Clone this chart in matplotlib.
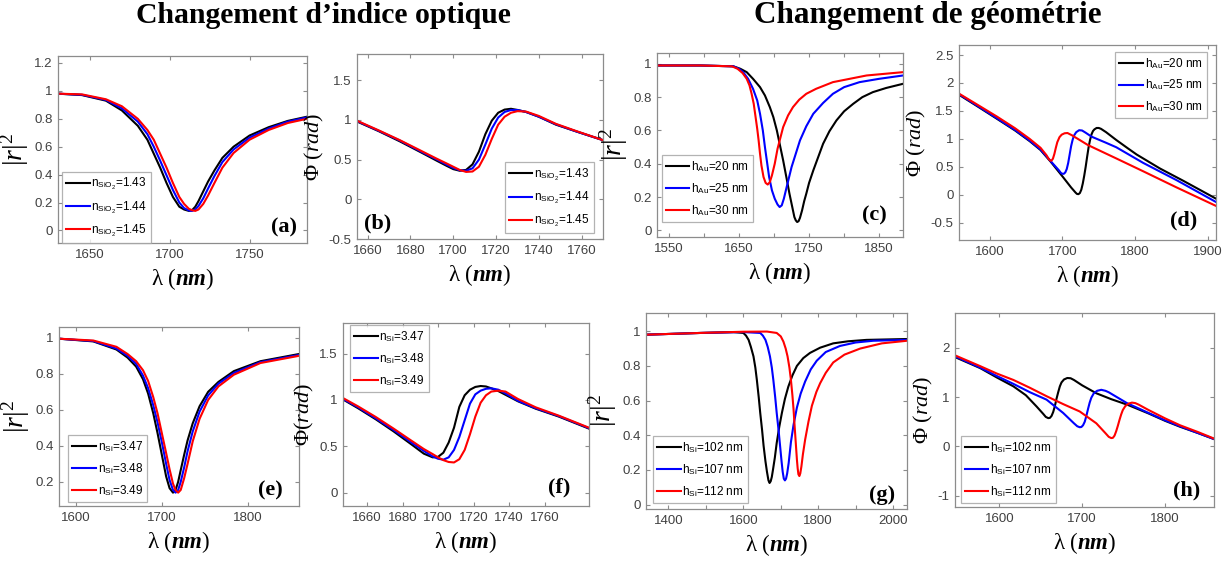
import matplotlib
matplotlib.use('Agg')
import matplotlib.pyplot as plt
from matplotlib.ticker import FormatStrFormatter

plt.rcParams['font.family'] = ['Liberation Sans', 'DejaVu Sans']
plt.rcParams['mathtext.fontset'] = 'custom'
plt.rcParams['mathtext.rm'] = 'Liberation Serif'
plt.rcParams['mathtext.it'] = 'Liberation Serif:italic'
plt.rcParams['mathtext.bf'] = 'Liberation Serif:italic:bold'

# ---- (a) |r|^2 vs n_SiO2
wl_a = [1630, 1645, 1660, 1670, 1680, 1686, 1690, 1694, 1698, 1702, 1706, 1709, 1712,
        1714, 1716, 1718, 1721, 1724, 1728, 1733, 1740, 1750, 1762, 1774, 1786]
a_143 = [0.98, 0.97, 0.93, 0.86, 0.75, 0.65, 0.55, 0.45, 0.34, 0.24, 0.17, 0.15, 0.14,
         0.145, 0.17, 0.21, 0.28, 0.35, 0.43, 0.52, 0.60, 0.68, 0.74, 0.785, 0.815]
a_144 = [0.98, 0.972, 0.935, 0.875, 0.78, 0.69, 0.60, 0.50, 0.395, 0.29, 0.20, 0.16, 0.143,
         0.14, 0.15, 0.175, 0.23, 0.30, 0.39, 0.49, 0.58, 0.665, 0.73, 0.78, 0.81]
a_145 = [0.98, 0.975, 0.94, 0.89, 0.80, 0.72, 0.65, 0.55, 0.45, 0.34, 0.24, 0.19, 0.155,
         0.145, 0.14, 0.15, 0.19, 0.25, 0.34, 0.45, 0.555, 0.65, 0.72, 0.77, 0.80]

# ---- (b) phase vs n_SiO2
wl_b = [1655, 1665, 1675, 1685, 1692, 1697, 1700, 1703, 1706, 1709, 1712, 1715, 1718,
        1721, 1724, 1727, 1730, 1734, 1740, 1748, 1758, 1770]
b_143 = [0.98, 0.86, 0.73, 0.59, 0.49, 0.42, 0.38, 0.36, 0.37, 0.44, 0.60, 0.82, 0.99,
         1.09, 1.13, 1.14, 1.125, 1.10, 1.04, 0.94, 0.85, 0.745]
b_144 = [0.985, 0.865, 0.74, 0.60, 0.505, 0.435, 0.395, 0.365, 0.36, 0.39, 0.50, 0.69, 0.89,
         1.03, 1.10, 1.125, 1.125, 1.10, 1.04, 0.945, 0.85, 0.745]
b_145 = [0.99, 0.87, 0.745, 0.61, 0.515, 0.45, 0.41, 0.37, 0.345, 0.35, 0.41, 0.56, 0.76,
         0.94, 1.04, 1.09, 1.11, 1.105, 1.05, 0.95, 0.855, 0.745]

# ---- (c) |r|^2 vs h_Au
c_wl_20 = [1533, 1595, 1642, 1652, 1661, 1670, 1680, 1687, 1694, 1699, 1704, 1708, 1713,
           1718, 1722, 1726, 1729, 1731, 1733, 1735, 1737, 1740, 1743, 1746, 1750, 1756,
           1763, 1770, 1779, 1789, 1800, 1813, 1826, 1841, 1860, 1884]
c_20 = [0.99, 0.99, 0.985, 0.97, 0.95, 0.91, 0.86, 0.81, 0.74, 0.68, 0.60, 0.52, 0.42,
        0.31, 0.22, 0.14, 0.08, 0.06, 0.05, 0.055, 0.075, 0.12, 0.175, 0.22, 0.285, 0.36,
        0.44, 0.52, 0.595, 0.66, 0.715, 0.76, 0.80, 0.83, 0.855, 0.88]
c_wl_25 = [1533, 1595, 1642, 1650, 1656, 1663, 1670, 1676, 1680, 1684, 1687, 1690, 1693,
           1697, 1701, 1705, 1708, 1711, 1714, 1718, 1725, 1731, 1737, 1746, 1756, 1770,
           1784, 1800, 1822, 1850, 1884]
c_25 = [0.99, 0.99, 0.985, 0.97, 0.95, 0.91, 0.85, 0.78, 0.70, 0.60, 0.50, 0.41, 0.32,
        0.24, 0.19, 0.155, 0.14, 0.15, 0.19, 0.26, 0.38, 0.46, 0.54, 0.625, 0.70, 0.765,
        0.82, 0.86, 0.89, 0.91, 0.93]
c_wl_30 = [1533, 1595, 1640, 1648, 1655, 1661, 1665, 1668, 1671, 1673, 1676, 1678, 1680,
           1682, 1685, 1688, 1691, 1694, 1697, 1701, 1705, 1713, 1720, 1727, 1736, 1746,
           1760, 1784, 1832, 1884]
c_30 = [0.99, 0.99, 0.985, 0.97, 0.945, 0.91, 0.87, 0.82, 0.76, 0.70, 0.61, 0.54, 0.46,
        0.39, 0.32, 0.285, 0.275, 0.29, 0.33, 0.40, 0.49, 0.62, 0.69, 0.74, 0.785, 0.82,
        0.85, 0.89, 0.93, 0.95]

# ---- (d) phase vs h_Au
d_wl_20 = [1558, 1586, 1610, 1635, 1655, 1670, 1684, 1700, 1712, 1716, 1718, 1720, 1722,
           1724, 1726, 1728, 1730, 1732, 1734, 1736, 1738, 1740, 1742, 1744, 1747, 1750,
           1753, 1760, 1774, 1790, 1802, 1834, 1866, 1911]
d_20 = [1.79, 1.56, 1.36, 1.15, 0.96, 0.80, 0.59, 0.33, 0.13, 0.07, 0.04, 0.015, 0.01,
        0.03, 0.09, 0.20, 0.34, 0.50, 0.68, 0.85, 0.98, 1.08, 1.14, 1.17, 1.195, 1.195,
        1.18, 1.12, 0.98, 0.83, 0.72, 0.47, 0.25, -0.07]
d_wl_25 = [1558, 1586, 1610, 1635, 1655, 1670, 1684, 1695, 1698, 1700, 1702, 1704, 1706,
           1708, 1710, 1712, 1714, 1716, 1719, 1723, 1727, 1732, 1740, 1760, 1774, 1811,
           1857, 1911]
d_25 = [1.80, 1.57, 1.37, 1.16, 0.97, 0.81, 0.60, 0.44, 0.39, 0.375, 0.375, 0.40, 0.46,
        0.57, 0.72, 0.87, 0.98, 1.06, 1.12, 1.155, 1.15, 1.11, 1.04, 0.93, 0.85, 0.57,
        0.26, -0.13]
d_wl_30 = [1558, 1586, 1610, 1635, 1655, 1670, 1678, 1681, 1683, 1685, 1687, 1689, 1691,
           1693, 1696, 1699, 1703, 1707, 1713, 1725, 1735, 1774, 1811, 1857, 1911]
d_30 = [1.81, 1.59, 1.40, 1.19, 1.00, 0.84, 0.71, 0.645, 0.615, 0.61, 0.645, 0.73, 0.84,
        0.94, 1.03, 1.075, 1.10, 1.105, 1.065, 0.97, 0.89, 0.65, 0.42, 0.13, -0.20]

# ---- (e) |r|^2 vs n_Si
wl_e = [1580, 1620, 1647, 1660, 1670, 1678, 1684, 1690, 1695, 1700, 1705, 1709, 1713,
        1716, 1719, 1722, 1726, 1730, 1736, 1744, 1754, 1766, 1784, 1815, 1860]
e_347 = [0.995, 0.98, 0.935, 0.89, 0.84, 0.77, 0.69, 0.58, 0.47, 0.35, 0.23, 0.165, 0.14,
         0.155, 0.20, 0.265, 0.35, 0.43, 0.525, 0.62, 0.70, 0.755, 0.815, 0.87, 0.91]
e_348 = [0.995, 0.982, 0.94, 0.90, 0.855, 0.79, 0.72, 0.625, 0.53, 0.42, 0.30, 0.21, 0.155,
         0.14, 0.155, 0.20, 0.28, 0.37, 0.48, 0.59, 0.68, 0.745, 0.805, 0.865, 0.905]
e_349 = [0.995, 0.985, 0.95, 0.91, 0.87, 0.82, 0.76, 0.67, 0.58, 0.47, 0.36, 0.27, 0.19,
         0.155, 0.14, 0.155, 0.22, 0.30, 0.425, 0.55, 0.655, 0.73, 0.795, 0.86, 0.90]

# ---- (f) phase vs n_Si
wl_f = [1646.5, 1655, 1665, 1675, 1685, 1692, 1697, 1700, 1703, 1706, 1709, 1712, 1715,
        1718, 1721, 1724, 1727, 1730, 1734, 1738, 1745, 1755, 1768, 1785]
f_347 = [1.005, 0.91, 0.79, 0.66, 0.52, 0.42, 0.38, 0.385, 0.43, 0.54, 0.70, 0.925, 1.05,
         1.11, 1.14, 1.15, 1.145, 1.125, 1.095, 1.055, 0.985, 0.905, 0.82, 0.69]
f_348 = [1.01, 0.92, 0.80, 0.675, 0.54, 0.45, 0.39, 0.365, 0.355, 0.38, 0.46, 0.60, 0.78,
         0.96, 1.06, 1.10, 1.12, 1.125, 1.11, 1.07, 0.99, 0.91, 0.825, 0.695]
f_349 = [1.02, 0.93, 0.815, 0.69, 0.56, 0.47, 0.415, 0.38, 0.35, 0.33, 0.325, 0.36, 0.46,
         0.63, 0.82, 0.97, 1.05, 1.09, 1.10, 1.09, 1.01, 0.92, 0.83, 0.70]

# ---- (g) |r|^2 vs h_Si
g_wl_102 = [1340, 1485, 1574, 1600, 1607, 1614, 1620, 1627, 1632, 1636, 1641, 1645, 1650,
            1654, 1659, 1663, 1667, 1670, 1673, 1676, 1679, 1684, 1689, 1696, 1703, 1711,
            1720, 1731, 1743, 1760, 1778, 1805, 1840, 1880, 1929, 2037]
g_102 = [0.98, 0.99, 0.995, 0.99, 0.975, 0.95, 0.91, 0.855, 0.79, 0.72, 0.62, 0.53, 0.43,
         0.34, 0.25, 0.19, 0.14, 0.125, 0.135, 0.16, 0.20, 0.27, 0.355, 0.45, 0.53, 0.61,
         0.68, 0.745, 0.80, 0.845, 0.875, 0.905, 0.93, 0.942, 0.95, 0.955]
g_wl_107 = [1340, 1485, 1600, 1645, 1652, 1659, 1665, 1671, 1676, 1680, 1685, 1689, 1694,
            1698, 1702, 1705, 1708, 1711, 1714, 1717, 1721, 1727, 1734, 1743, 1753, 1765,
            1780, 1796, 1820, 1858, 1900, 1947, 2037]
g_107 = [0.98, 0.99, 0.995, 0.99, 0.975, 0.95, 0.91, 0.855, 0.79, 0.72, 0.62, 0.53, 0.43,
         0.34, 0.25, 0.19, 0.15, 0.14, 0.15, 0.18, 0.24, 0.36, 0.46, 0.56, 0.64, 0.71,
         0.78, 0.83, 0.88, 0.915, 0.935, 0.945, 0.95]
g_wl_112 = [1340, 1485, 1600, 1663, 1689, 1700, 1707, 1713, 1718, 1723, 1727, 1731, 1734,
            1737, 1740, 1743, 1745, 1747, 1749.5, 1752, 1755, 1759, 1765, 1774, 1783, 1795,
            1805, 1820, 1840, 1870, 1912, 1970, 2037]
g_112 = [0.98, 0.99, 0.997, 0.998, 0.99, 0.97, 0.94, 0.90, 0.855, 0.79, 0.72, 0.63, 0.55,
         0.45, 0.355, 0.26, 0.21, 0.175, 0.165, 0.18, 0.22, 0.29, 0.375, 0.48, 0.57, 0.65,
         0.70, 0.76, 0.82, 0.865, 0.90, 0.93, 0.945]

# ---- (h) phase vs h_Si
h_wl_102 = [1546.5, 1577, 1597, 1617, 1632, 1645, 1653, 1656, 1659, 1661, 1663, 1665, 1667,
            1669, 1671, 1673, 1675, 1678, 1682, 1686, 1690, 1700, 1717, 1735, 1754, 1780,
            1800, 1818, 1840, 1859]
h_102 = [1.815, 1.59, 1.40, 1.22, 1.04, 0.81, 0.66, 0.60, 0.575, 0.58, 0.62, 0.70, 0.82,
         0.97, 1.10, 1.22, 1.30, 1.36, 1.39, 1.385, 1.35, 1.24, 1.08, 0.96, 0.85, 0.67,
         0.52, 0.40, 0.27, 0.15]
h_wl_107 = [1546.5, 1577, 1597, 1617, 1637, 1657, 1677, 1690, 1694, 1697, 1699, 1701, 1703,
            1705, 1707, 1709, 1711, 1714, 1718, 1723, 1728, 1732, 1745, 1754, 1780, 1800,
            1818, 1840, 1859]
h_107 = [1.83, 1.60, 1.43, 1.27, 1.10, 0.95, 0.68, 0.47, 0.41, 0.39, 0.395, 0.43, 0.50,
         0.62, 0.76, 0.89, 0.99, 1.08, 1.13, 1.15, 1.13, 1.10, 0.97, 0.88, 0.68, 0.53,
         0.41, 0.27, 0.15]
h_wl_112 = [1546.5, 1577, 1597, 1617, 1637, 1657, 1677, 1697, 1717, 1728, 1732, 1735, 1737,
            1739, 1741, 1743, 1745, 1747, 1749, 1752, 1756, 1760, 1764, 1768, 1780, 1800,
            1818, 1840, 1859]
h_112 = [1.85, 1.63, 1.48, 1.35, 1.19, 1.02, 0.86, 0.71, 0.47, 0.27, 0.195, 0.17, 0.175,
         0.22, 0.31, 0.42, 0.54, 0.65, 0.74, 0.82, 0.87, 0.89, 0.88, 0.85, 0.74, 0.57,
         0.43, 0.29, 0.16]

sio2_labels = [r'n$_{\mathregular{SiO_2}}$=1.43', r'n$_{\mathregular{SiO_2}}$=1.44',
               r'n$_{\mathregular{SiO_2}}$=1.45']
si_labels = [r'n$_{\mathregular{Si}}$=3.47', r'n$_{\mathregular{Si}}$=3.48',
             r'n$_{\mathregular{Si}}$=3.49']
au_labels = [r'h$_{\mathregular{Au}}$=20 nm', r'h$_{\mathregular{Au}}$=25 nm',
             r'h$_{\mathregular{Au}}$=30 nm']
hsi_labels = [r'h$_{\mathregular{Si}}$=102 nm', r'h$_{\mathregular{Si}}$=107 nm',
              r'h$_{\mathregular{Si}}$=112 nm']
colors = ['#000000', '#0000ff', '#ff0000']

R2 = r'$|\mathit{r}|^2$'
PHI = r'$\Phi\ (\mathit{rad})$'
XL = r'$\mathrm{\lambda}\ (\mathbf{nm})$'

W, H = 1223, 565
fig = plt.figure(figsize=(W / 100, H / 100), dpi=100)


def panel(box, xs, ys, labels, xlim, ylim, xticks, xticklabels, yticks, ylabel,
          tag, tag_xy, tag_ha, leg_loc, leg_anchor):
    l, t, r, b = box
    ax = fig.add_axes([l / W, 1 - b / H, (r - l) / W, (b - t) / H])
    for x, y, c, lab in zip(xs, ys, colors, labels):
        ax.plot(x, y, color=c, lw=1.5, label=lab)
    ax.set_xlim(xlim)
    ax.set_ylim(ylim)
    ax.set_xticks(xticks)
    if xticklabels is not None:
        ax.set_xticklabels(xticklabels)
    ax.set_yticks(yticks)
    ax.yaxis.set_major_formatter(FormatStrFormatter('%g'))
    ax.tick_params(direction='in', top=True, right=True, length=3, width=0.8,
                   color='#8c8c8c', labelcolor='#404040', labelsize=9.5, pad=4)
    for s in ax.spines.values():
        s.set_color('#8c8c8c')
        s.set_linewidth(0.9)
    ax.set_xlabel(XL, fontsize=16.5, labelpad=4)
    ax.set_ylabel(ylabel, fontsize=20 if ylabel == R2 else 16, labelpad=2)
    ax.text(tag_xy[0], tag_xy[1], tag, transform=ax.transAxes, ha=tag_ha, va='bottom',
            fontsize=16, fontweight='bold', family='Liberation Serif')
    leg = ax.legend(loc=leg_loc, bbox_to_anchor=leg_anchor, fontsize=8.5, frameon=True,
                    fancybox=False, borderaxespad=0, borderpad=0.35, handlelength=2.0,
                    handletextpad=0.15, labelspacing=0.6)
    leg.get_frame().set_edgecolor('#a0a0a0')
    leg.get_frame().set_linewidth(0.9)
    return ax


panel((58, 56, 307, 243), [wl_a] * 3, [a_143, a_144, a_145], sio2_labels,
      (1630, 1786), (-0.09, 1.25), [1650, 1700, 1750], None,
      [0, 0.2, 0.4, 0.6, 0.8, 1, 1.2], R2, '(a)', (0.96, 0.03), 'right',
      'lower left', (0.016, 0.0))

panel((357, 54, 603, 239), [wl_b] * 3, [b_143, b_144, b_145], sio2_labels,
      (1655, 1770), (-0.5, 1.83), [1660, 1680, 1700, 1720, 1740, 1760], None,
      [-0.5, 0, 0.5, 1, 1.5], PHI, '(b)', (0.03, 0.03), 'left',
      'lower right', (0.963, 0.03))

panel((657, 53, 903, 237), [c_wl_20, c_wl_25, c_wl_30], [c_20, c_25, c_30], au_labels,
      (1533, 1884), (-0.04, 1.065), [1550, 1600, 1650, 1700, 1750, 1800, 1850],
      ['1550', '', '1650', '', '1750', '', '1850'],
      [0, 0.2, 0.4, 0.6, 0.8, 1], R2, '(c)', (0.935, 0.06), 'right',
      'lower left', (0.019, 0.083))

panel((959, 45, 1216, 240), [d_wl_20, d_wl_25, d_wl_30], [d_20, d_25, d_30], au_labels,
      (1558, 1911), (-0.81, 2.68), [1600, 1700, 1800, 1900], None,
      [-0.5, 0, 0.5, 1, 1.5, 2, 2.5], PHI, '(d)', (0.926, 0.05), 'right',
      'upper right', (0.964, 0.966))

panel((59, 327, 299, 506), [wl_e] * 3, [e_347, e_348, e_349], si_labels,
      (1580, 1860), (0.066, 1.06), [1600, 1700, 1800], None,
      [0.2, 0.4, 0.6, 0.8, 1], R2, '(e)', (0.933, 0.03), 'right',
      'lower left', (0.039, 0.024))

panel((343, 323, 589, 506), [wl_f] * 3, [f_347, f_348, f_349], si_labels,
      (1646.5, 1785), (-0.145, 1.83), [1660, 1680, 1700, 1720, 1740, 1760], None,
      [0, 0.5, 1, 1.5], r'$\Phi(\mathit{rad})$', '(f)', (0.923, 0.045), 'right',
      'upper left', (0.028, 0.989))

panel((646, 313, 907, 509), [g_wl_102, g_wl_107, g_wl_112], [g_102, g_107, g_112],
      hsi_labels, (1340, 2037), (-0.025, 1.105),
      [1400, 1500, 1600, 1700, 1800, 1900, 2000],
      ['1400', '', '1600', '', '1800', '', '2000'],
      [0, 0.2, 0.4, 0.6, 0.8, 1], R2, '(g)', (0.954, 0.02), 'right',
      'lower left', (0.026, 0.029))

panel((955, 313, 1214, 507), [h_wl_102, h_wl_107, h_wl_112], [h_102, h_107, h_112],
      hsi_labels, (1546.5, 1859), (-1.23, 2.71), [1600, 1700, 1800], None,
      [-1, 0, 1, 2], PHI, '(h)', (0.946, 0.035), 'right',
      'lower left', (0.022, 0.022))

fig.text(323 / W, 1 - 23 / H, 'Changement d\u2019indice optique', ha='center',
         va='baseline', fontsize=21.4, fontweight='bold', family='Liberation Serif')
fig.text(928 / W, 1 - 23 / H, 'Changement de g\u00e9om\u00e9trie', ha='center',
         va='baseline', fontsize=22.4, fontweight='bold', family='Liberation Serif')

fig.savefig('out.png', dpi=100)
